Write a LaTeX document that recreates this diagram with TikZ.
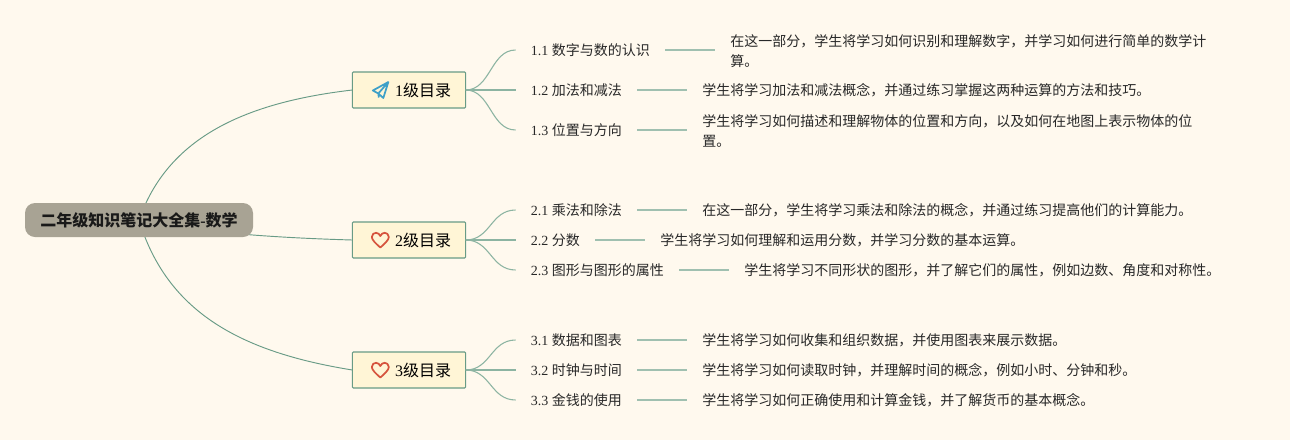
\documentclass[tikz,border=0pt]{standalone}
\usepackage{fontspec}
\usepackage{xcolor}
\usepackage{tikz}
\usetikzlibrary{arrows.meta,positioning,backgrounds,calc}
\setmainfont{Liberation Serif}
\newfontfamily\cjk{Noto Sans CJK SC}
\definecolor{pagecream} {RGB}{255,249,238}
\definecolor{rootgray}  {RGB}{168,163,148}
\definecolor{branchfill}{RGB}{255,245,214}
\definecolor{branchline}{RGB}{104,155,134}
\definecolor{twigline}  {RGB}{140,180,162}
\definecolor{leafline}  {RGB}{160,192,176}
\definecolor{planeblue} {RGB}{62,160,200}
\definecolor{heartred}  {RGB}{214,84,62}
\definecolor{inktext}   {RGB}{40,40,40}
\tikzset{
  rootbox/.style  ={draw=none, fill=rootgray, rounded corners=7.5pt,
                    minimum width=171pt, minimum height=25.5pt, inner sep=0pt,
                    text height=10.9pt, text depth=1.4pt,
                    font=\fontsize{12}{15}\selectfont\bfseries, text=black!90},
  branchbox/.style={draw=branchline, fill=branchfill, rounded corners=0.8pt,
                    line width=0.8pt, outer sep=0pt, minimum width=85pt, minimum height=27pt,
                    inner sep=0pt, text height=10.9pt, text depth=1.4pt,
                    font=\fontsize{12}{15}\selectfont, text=black},
  topicbox/.style ={inner xsep=11.25pt, inner ysep=0pt, align=left,
                    text height=10pt, text depth=1.3pt,
                    font=\fontsize{10.5}{15}\selectfont, text=inktext},
  descbox/.style  ={topicbox},
  %% two-line texts keep their natural height
  wrapbox/.style  ={inner xsep=11.25pt, inner ysep=0pt, align=left, yshift=-0.75pt,
                    font=\fontsize{10.5}{15}\selectfont, text=inktext},
  limb/.style     ={draw=branchline, line width=0.7pt},
  twig/.style     ={draw=twigline, line width=0.8pt},
  leaf/.style     ={draw=leafline, line width=1.1pt},
  planeicon/.pic={
    \draw[planeblue, line width=1.3pt, line join=round]
      (8,-8)--(-7.5,0.5)--(-2,3.5)--(3,8)--cycle (-2,3.5)--(8,-8) (-2,3.5)--(-1.5,7.5);
  },
  hearticon/.pic={
    \draw[heartred, line width=1.3pt, line join=round]
      (0,7.5) .. controls (-4,4) and (-8.5,0) .. (-8.5,-3)
      .. controls (-8.5,-5.8) and (-6.2,-7.2) .. (-4.3,-7.2)
      .. controls (-2.4,-7.2) and (-0.8,-5.8) .. (0,-4)
      .. controls (0.8,-5.8) and (2.4,-7.2) .. (4.3,-7.2)
      .. controls (6.2,-7.2) and (8.5,-5.8) .. (8.5,-3)
      .. controls (8.5,0) and (4,4) .. (0,7.5)--cycle;
  },
}

\begin{document}
\begin{tikzpicture}[x=0.75pt,y=-0.75pt]
  \useasboundingbox (0,0) rectangle (1290,440);
  \node[rootbox] (root) at (139,220) {\cjk 二年级知识笔记大全集\rmfamily\bfseries -\cjk\bfseries 数学};
  \node[branchbox] (br1) at (409,90)  {\hspace*{21pt}1{\cjk 级目录}};
  \node[branchbox] (br2) at (409,240) {\hspace*{21pt}2{\cjk 级目录}};
  \node[branchbox] (br3) at (409,370) {\hspace*{21pt}3{\cjk 级目录}};
  \pic at ($(br1.west)+(28,0)$) {planeicon};
  \pic at ($(br2.west)+(28,0)$) {hearticon};
  \pic at ($(br3.west)+(28,0)$) {hearticon};
  %% first group
  \node[topicbox, right=37.5pt of br1, yshift=30pt] (t11) {1.1 {\cjk 数字与数的认识}};
  \node[topicbox, right=37.5pt of br1] (t12) {1.2 {\cjk 加法和减法}};
  \node[topicbox, right=37.5pt of br1, yshift=-30pt] (t13) {1.3 {\cjk 位置与方向}};
  \node[wrapbox, right=37.5pt of t11] (d11) {\cjk 在这一部分，学生将学习如何识别和理解数字，并学习如何进行简单的数学计\\\cjk 算。};
  \node[descbox, right=37.5pt of t12] (d12) {\cjk 学生将学习加法和减法概念，并通过练习掌握这两种运算的方法和技巧。};
  \node[wrapbox, right=37.5pt of t13] (d13) {\cjk 学生将学习如何描述和理解物体的位置和方向，以及如何在地图上表示物体的位\\\cjk 置。};
  %% second group
  \node[topicbox, right=37.5pt of br2, yshift=22.5pt] (t21) {2.1 {\cjk 乘法和除法}};
  \node[topicbox, right=37.5pt of br2] (t22) {2.2 {\cjk 分数}};
  \node[topicbox, right=37.5pt of br2, yshift=-22.5pt] (t23) {2.3 {\cjk 图形与图形的属性}};
  \node[descbox, right=37.5pt of t21] (d21) {\cjk 在这一部分，学生将学习乘法和除法的概念，并通过练习提高他们的计算能力。};
  \node[descbox, right=37.5pt of t22] (d22) {\cjk 学生将学习如何理解和运用分数，并学习分数的基本运算。};
  \node[descbox, right=37.5pt of t23] (d23) {\cjk 学生将学习不同形状的图形，并了解它们的属性，例如边数、角度和对称性。};
  %% third group
  \node[topicbox, right=37.5pt of br3, yshift=22.5pt] (t31) {3.1 {\cjk 数据和图表}};
  \node[topicbox, right=37.5pt of br3] (t32) {3.2 {\cjk 时钟与时间}};
  \node[topicbox, right=37.5pt of br3, yshift=-22.5pt] (t33) {3.3 {\cjk 金钱的使用}};
  \node[descbox, right=37.5pt of t31] (d31) {\cjk 学生将学习如何收集和组织数据，并使用图表来展示数据。};
  \node[descbox, right=37.5pt of t32] (d32) {\cjk 学生将学习如何读取时钟，并理解时间的概念，例如小时、分钟和秒。};
  \node[descbox, right=37.5pt of t33] (d33) {\cjk 学生将学习如何正确使用和计算金钱，并了解货币的基本概念。};
  \begin{scope}[on background layer]
    \fill[pagecream] (0,0) rectangle (1290,440);
    \draw[limb] (root.center) .. controls +(28,-80) and +(-112,13) .. (br1.west);
    \draw[limb] (root.center) .. controls +(60,13) and +(-70,-2) .. (br2.west);
    \draw[limb] (root.center) .. controls +(28,92) and +(-112,-18) .. (br3.west);
  \end{scope}
  \draw[twig] (br1.east) .. controls +(25,0) and +(-25,0) .. (t11.west);
  \draw[twig] (br1.east) -- (t12.west);
  \draw[twig] (br1.east) .. controls +(25,0) and +(-25,0) .. (t13.west);
  \draw[twig] (br2.east) .. controls +(25,0) and +(-25,0) .. (t21.west);
  \draw[twig] (br2.east) -- (t22.west);
  \draw[twig] (br2.east) .. controls +(25,0) and +(-25,0) .. (t23.west);
  \draw[twig] (br3.east) .. controls +(25,0) and +(-25,0) .. (t31.west);
  \draw[twig] (br3.east) -- (t32.west);
  \draw[twig] (br3.east) .. controls +(25,0) and +(-25,0) .. (t33.west);
  \draw[leaf] (t11.east)--(t11.east-|d11.west);
  \draw[leaf] (t12)--(d12);
  \draw[leaf] (t13.east)--(t13.east-|d13.west);
  \draw[leaf] (t21)--(d21);
  \draw[leaf] (t22)--(d22);
  \draw[leaf] (t23)--(d23);
  \draw[leaf] (t31)--(d31);
  \draw[leaf] (t32)--(d32);
  \draw[leaf] (t33)--(d33);
\end{tikzpicture}
\end{document}
